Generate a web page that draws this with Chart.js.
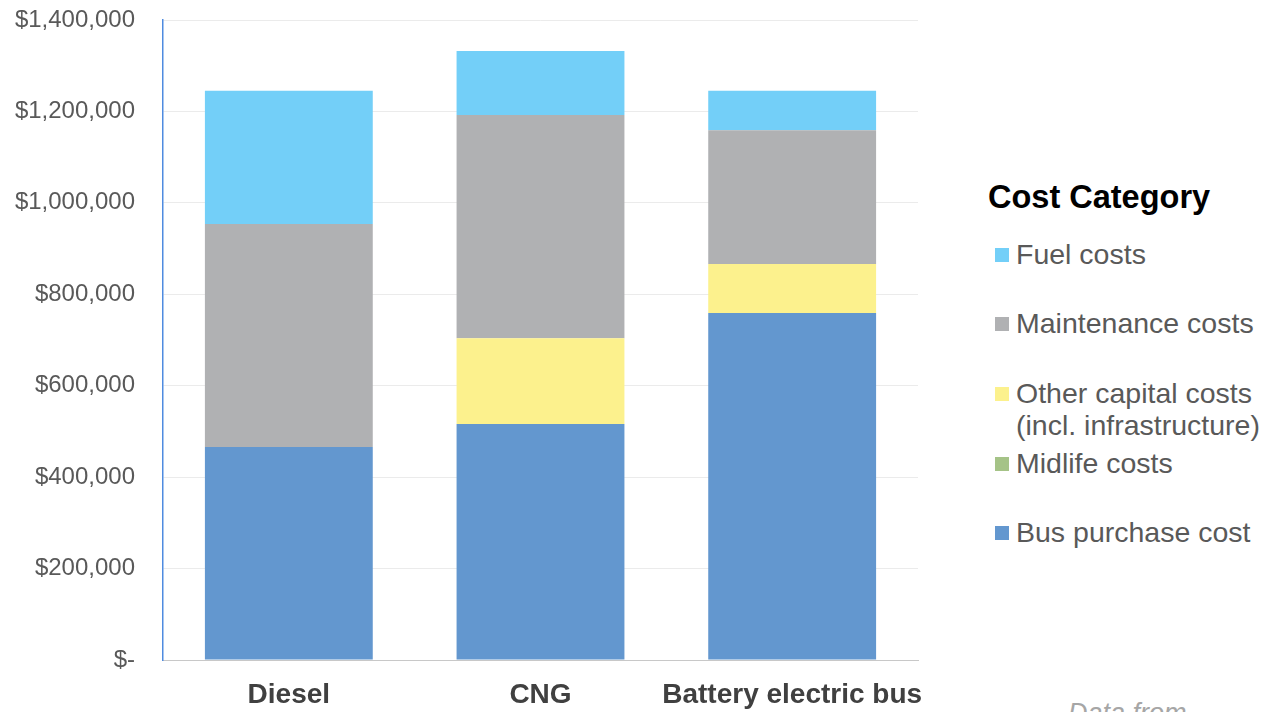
<!DOCTYPE html>
<html>
<head>
<meta charset="utf-8">
<script src="https://cdn.jsdelivr.net/npm/chart.js@4.4.1/dist/chart.umd.min.js"></script>
<style>
  body{margin:0;background:#fff;font-family:"Liberation Sans",Arial,sans-serif;overflow:hidden}
  #wrap{position:relative;width:1268px;height:712px}
  #chartBox{position:absolute;left:0;top:0;width:960px;height:712px}
  #legend{position:absolute;left:988px;top:178px;color:#595959}
  #legend .title{font-weight:bold;font-size:32.5px;color:#000;margin-top:1px}
  #legend .item{position:absolute;left:7px;font-size:28.5px;line-height:32px;white-space:nowrap}
  #legend .sw{position:absolute;left:0;top:10px;width:14px;height:14px}
  #legend .txt{margin-left:21px}
  #note{position:absolute;left:1068px;top:698px;font-size:27px;font-style:italic;color:#a6a6a6}
</style>
</head>
<body>
<div id="wrap">
  <div id="chartBox"><canvas id="costChart"></canvas></div>
  <div id="legend"><div class="title">Cost Category</div></div>
  <div id="note">Data from</div>
</div>
<script>
const categories = ['Diesel', 'CNG', 'Battery electric bus']
const busPurchase = [466000, 516000, 759000]
const midlife = [0, 0, 0]
const otherCapital = [0, 188000, 107000]
const maintenance = [488000, 488000, 293000]
const fuel = [291000, 140000, 86000]
const yTicks = [0, 200000, 400000, 600000, 800000, 1000000, 1200000, 1400000]

const colors = {
  bus: '#6397cf',
  midlife: '#a5c387',
  other: '#fcf18d',
  maint: '#b0b1b3',
  fuel: '#73cff8'
}

function money(v){
  if(v === 0) return '$-'
  return '$' + v.toLocaleString('en-US')
}

const datasets = [
  {label:'Bus purchase cost', data:busPurchase, backgroundColor:colors.bus},
  {label:'Midlife costs', data:midlife, backgroundColor:colors.midlife},
  {label:'Other capital costs\n(incl. infrastructure)', data:otherCapital, backgroundColor:colors.other},
  {label:'Maintenance costs', data:maintenance, backgroundColor:colors.maint},
  {label:'Fuel costs', data:fuel, backgroundColor:colors.fuel}
].map(d => Object.assign(d, {categoryPercentage:0.667, barPercentage:1, borderWidth:0}))

new Chart(document.getElementById('costChart'), {
  type:'bar',
  data:{labels:categories, datasets},
  options:{
    responsive:true,
    maintainAspectRatio:false,
    animation:false,
    layout:{padding:{top:0, right:42, left:0, bottom:0}},
    plugins:{legend:{display:false}, tooltip:{enabled:false}},
    scales:{
      x:{
        stacked:true,
        grid:{display:false, drawTicks:false},
        border:{color:'#c8c8c8', width:1},
        ticks:{color:'#404040', padding:18, maxRotation:0, minRotation:0, autoSkip:false,
               font:{family:'"Liberation Sans", Arial', size:28, weight:'bold'}},
        afterFit(s){ s.height = 52; s.paddingLeft = 0; s.paddingRight = 0 }
      },
      y:{
        stacked:true,
        min:0, max:1400000,
        afterBuildTicks(s){ s.ticks = yTicks.map(v => ({value:v})) },
        grid:{color:'#ebebeb', drawTicks:false},
        border:{color:'#4f8be0', width:1.5},
        ticks:{color:'#595959', padding:28, font:{family:'"Liberation Sans", Arial', size:24}, callback:v => money(v)},
        afterFit(s){ s.width = 163; s.paddingTop = 20; s.paddingBottom = 0 }
      }
    }
  }
})

// legend on the right, top to bottom as in the picture
const legendEl = document.getElementById('legend')
const legendTops = [60, 129, 199, 269, 338]
datasets.slice().reverse().forEach((d, i) => {
  const item = document.createElement('div')
  item.className = 'item'
  item.style.top = legendTops[i] + 'px'
  item.innerHTML = `<div class="sw" style="background:${d.backgroundColor}"></div><div class="txt">${d.label.replace('\n', '<br>')}</div>`
  legendEl.appendChild(item)
})
</script>
</body>
</html>
